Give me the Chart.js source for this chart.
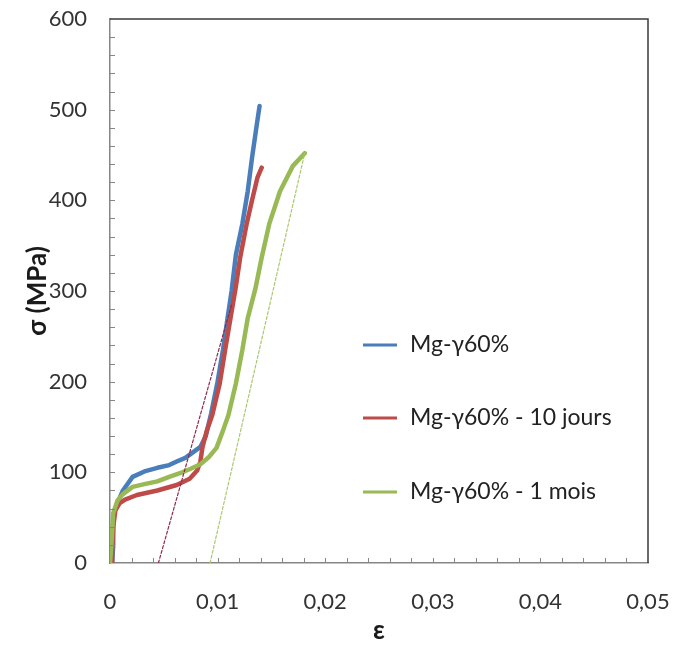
<!DOCTYPE html>
<html>
<head>
<meta charset="utf-8">
<script src="https://cdn.jsdelivr.net/npm/chart.js@4.4.0/dist/chart.umd.min.js"></script>
<style>
  html, body { margin: 0; padding: 0; background: #fff; }
  #wrap { width: 675px; height: 646px; }
</style>
</head>
<body>
<div id="wrap"><canvas id="chart" width="675" height="646"></canvas></div>
<script>
// series names
const seriesNames = ["Mg-γ60%", "Mg-γ60% - 10 jours", "Mg-γ60% - 1 mois"];

// Mg-γ60%
const blueStrain = [0.0002, 0.0003, 0.0003, 0.0004, 0.0007, 0.0012, 0.0021, 0.0032, 0.0044, 0.0055, 0.0062, 0.0070, 0.0077, 0.0084, 0.0089, 0.0094, 0.0100, 0.0105, 0.0109, 0.0113, 0.0117, 0.0123, 0.0128, 0.0132, 0.0136, 0.0139];
const blueStress = [0, 20, 45, 58, 66, 80, 95, 101, 105, 108, 112, 116, 122, 128, 140, 165, 200, 235, 268, 300, 340, 374, 410, 447, 480, 504];

// Mg-γ60% - 10 jours
const redStrain = [0.0002, 0.0002, 0.0003, 0.0005, 0.0009, 0.0014, 0.0025, 0.0044, 0.0062, 0.0074, 0.0081, 0.0084, 0.0086, 0.0090, 0.0095, 0.0102, 0.0107, 0.0112, 0.0117, 0.0121, 0.0127, 0.0132, 0.0137, 0.0141];
const redStress = [0, 15, 40, 58, 66, 70, 75, 80, 86, 93, 102, 112, 128, 146, 163, 198, 235, 270, 305, 337, 374, 400, 425, 436];

// Mg-γ60% - 1 mois
const greenStrain = [0.0000, 0.0001, 0.0002, 0.0003, 0.0007, 0.0012, 0.0021, 0.0032, 0.0044, 0.0055, 0.0065, 0.0075, 0.0084, 0.0092, 0.0099, 0.0105, 0.0110, 0.0117, 0.0123, 0.0128, 0.0135, 0.0141, 0.0148, 0.0158, 0.0170, 0.0181];
const greenStress = [0, 15, 35, 55, 69, 76, 84, 87, 90, 95, 99, 104, 109, 117, 127, 146, 163, 198, 235, 270, 302, 337, 374, 410, 438, 452];

// elastic lines (dashed)
const redFitStrain = [0.0045, 0.0113];
const redFitStress = [0, 285];
const greenFitStrain = [0.0093, 0.0181];
const greenFitStress = [0, 452];

// ticks
const xTickLabels = ["0", "0,01", "0,02", "0,03", "0,04", "0,05"];
const yTickLabels = ["0", "100", "200", "300", "400", "500", "600"];

const colors = ["#4a7ebb", "#be4b48", "#98b954"];

function toPoints(xs, ys) {
  return xs.map((x, i) => ({ x: x, y: ys[i] }));
}

Chart.defaults.font.family = "Lato, 'DejaVu Sans', sans-serif";
Chart.defaults.color = "#333333";

// frame on top/right, inner minor ticks, legend inside the plot
const extras = {
  id: "extras",
  afterDraw(chart) {
    const { ctx, chartArea: a, scales } = chart;
    const x = scales.x, y = scales.y;
    ctx.save();

    ctx.strokeStyle = "#3a3a3a";
    ctx.lineWidth = 1.5;
    ctx.beginPath();
    ctx.moveTo(a.left, a.top);
    ctx.lineTo(a.right, a.top);
    ctx.lineTo(a.right, a.bottom);
    ctx.stroke();

    ctx.strokeStyle = "#868686";
    ctx.lineWidth = 1;
    ctx.beginPath();
    for (let i = 1; i < 30; i++) {
      const py = Math.round(y.getPixelForValue(i * 20)) + 0.5;
      ctx.moveTo(a.left, py);
      ctx.lineTo(a.left + 5, py);
    }
    for (let i = 1; i < 25; i++) {
      const px = Math.round(x.getPixelForValue(i * 0.002)) + 0.5;
      ctx.moveTo(px, a.bottom);
      ctx.lineTo(px, a.bottom - 5);
    }
    ctx.stroke();

    // legend
    ctx.font = "23px Lato, 'DejaVu Sans', sans-serif";
    ctx.textBaseline = "middle";
    ctx.fillStyle = "#222222";
    const rows = [345, 418, 492];
    for (let i = 0; i < 3; i++) {
      ctx.strokeStyle = colors[i];
      ctx.lineWidth = 3;
      ctx.beginPath();
      ctx.moveTo(363, rows[i]);
      ctx.lineTo(397, rows[i]);
      ctx.stroke();
      ctx.fillText(seriesNames[i], 410, rows[i]);
    }
    ctx.restore();
  }
};

new Chart(document.getElementById("chart"), {
  type: "line",
  data: {
    datasets: [
      { label: seriesNames[0], data: toPoints(blueStrain, blueStress), borderColor: colors[0], borderWidth: 4.5, order: 5 },
      { label: seriesNames[1], data: toPoints(redStrain, redStress), borderColor: colors[1], borderWidth: 4.5, order: 4 },
      { label: seriesNames[2], data: toPoints(greenStrain, greenStress), borderColor: colors[2], borderWidth: 4.5, order: 3 },
      { label: "fit 10 jours", data: toPoints(redFitStrain, redFitStress), borderColor: "#8e2a4a", borderWidth: 1.2, borderDash: [3, 2], order: 2 },
      { label: "fit 1 mois", data: toPoints(greenFitStrain, greenFitStress), borderColor: "#a9c96b", borderWidth: 1.2, borderDash: [3, 2], order: 1 }
    ]
  },
  options: {
    responsive: false,
    animation: false,
    devicePixelRatio: 1,
    elements: {
      point: { radius: 0 },
      line: { tension: 0, fill: false, borderJoinStyle: "round", borderCapStyle: "round" }
    },
    layout: { padding: { top: 19, right: 27, left: 0, bottom: 0 } },
    plugins: {
      legend: { display: false },
      tooltip: { enabled: false }
    },
    scales: {
      x: {
        type: "linear",
        min: 0,
        max: 0.05,
        grid: { display: false },
        border: { display: true, color: "#868686", width: 1.5 },
        ticks: {
          stepSize: 0.01,
          padding: 18,
          font: { size: 22 },
          callback: (v, i) => xTickLabels[i]
        },
        title: { display: true, text: "ε", font: { size: 26, weight: "bold" }, color: "#1a1a1a", padding: { top: 0, bottom: 0 } },
        afterFit: (s) => { s.height = 83; s.paddingLeft = 0; s.paddingRight = 0; }
      },
      y: {
        min: 0,
        max: 600,
        grid: { display: false },
        border: { display: true, color: "#868686", width: 1.5 },
        ticks: {
          stepSize: 100,
          padding: 15,
          font: { size: 22 },
          callback: (v, i) => yTickLabels[i]
        },
        title: { display: true, text: "σ (MPa)", font: { size: 26, weight: "bold" }, color: "#1a1a1a", padding: { top: 22, bottom: 0 } },
        afterFit: (s) => { s.width = 110; s.paddingTop = 0; s.paddingBottom = 0; }
      }
    }
  },
  plugins: [extras]
});
</script>
</body>
</html>
